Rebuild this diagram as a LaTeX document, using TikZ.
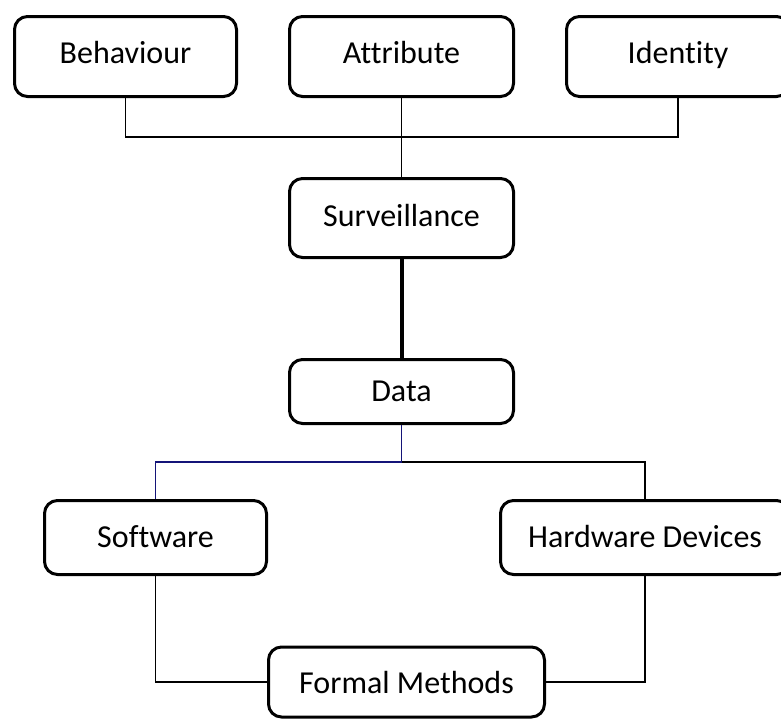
\documentclass[tikz,border=0pt]{standalone}
\usepackage{fontspec}
\setmainfont{Carlito}[Ligatures={NoCommon}]
\definecolor{navyline}{RGB}{20,20,120}
\begin{document}
\begin{tikzpicture}[x=1pt,y=-1pt,
  box/.style={draw, line width=3pt, rounded corners=13pt, inner sep=0pt,
    font=\fontsize{32}{36}\selectfont},
  link/.style={line width=1.3pt},
  thicklink/.style={line width=4pt}]
\useasboundingbox (0,0) rectangle (781,720);
\clip (0,0) rectangle (781,720);
\node[box, minimum width=222pt, minimum height=80pt] (beh) at (125.5,56.5) {\raisebox{8pt}{Behaviour}};
\node[box, minimum width=224pt, minimum height=80pt] (att) at (401.5,56.5) {\raisebox{8pt}{Attribute}};
\node[box, minimum width=223pt, minimum height=80pt] (ide) at (678,56.5) {\raisebox{8pt}{Identity}};
\node[box, minimum width=224pt, minimum height=79pt] (sur) at (401.5,218) {\raisebox{5pt}{Surveillance}};
\node[box, minimum width=224pt, minimum height=64pt] (dat) at (401.5,391.5) {Data};
\node[box, minimum width=222pt, minimum height=74pt] (sof) at (155.5,537.5) {\raisebox{2pt}{Software}};
\node[box, minimum width=289pt, minimum height=74pt] (hw) at (645,537.5) {\raisebox{2pt}{Hardware Devices}};
\node[box, minimum width=276pt, minimum height=70pt] (fm) at (406.5,682) {Formal Methods};
\coordinate (j1) at (401.5,137);
\coordinate (j2) at (401.5,462);
\draw[link] (beh.south) |- (j1) -| (ide.south);
\draw[link] (att.south) -- (sur.north);
\draw[thicklink] (sur.south) -- (dat.north);
\draw[link, navyline] (dat.south) -- (j2) -| (sof.north);
\draw[link] (j2) -| (hw.north);
\draw[link] (sof.south) |- (fm.west);
\draw[link] (hw.south) |- (fm.east);
\end{tikzpicture}
\end{document}
